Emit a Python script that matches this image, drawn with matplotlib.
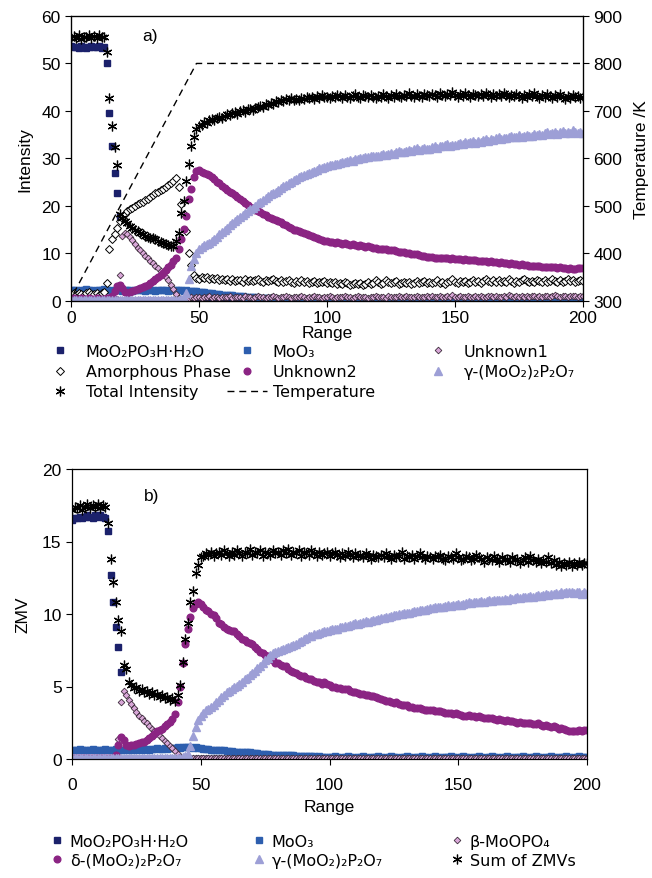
"""Two-panel phase evolution chart: intensity (a) and ZMV (b) against range."""

import matplotlib

matplotlib.use("Agg")
import matplotlib.pyplot as plt

plt.rcParams["font.family"] = ["Liberation Sans", "DejaVu Sans"]

frames = list(range(201))

# ---- panel a) intensities -------------------------------------------------
int_mop = [
    53.6, 53.4, 53.5, 53.3, 53.6, 53.5, 53.2, 53.4, 53.6, 53.5, 53.4, 53.6, 53.3, 53.5, 50.0, 39.5, 32.7, 27.0, 22.8, 17.8,
    0, 0, 0, 0, 0, 0, 0, 0, 0, 0, 0, 0, 0, 0, 0, 0, 0, 0, 0, 0,
    0, 0, 0, 0, 0, 0, 0, 0, 0, 0, 0, 0, 0, 0, 0, 0, 0, 0, 0, 0,
    0, 0, 0, 0, 0, 0, 0, 0, 0, 0, 0, 0, 0, 0, 0, 0, 0, 0, 0, 0,
    0, 0, 0, 0, 0, 0, 0, 0, 0, 0, 0, 0, 0, 0, 0, 0, 0, 0, 0, 0,
    0, 0, 0, 0, 0, 0, 0, 0, 0, 0, 0, 0, 0, 0, 0, 0, 0, 0, 0, 0,
    0, 0, 0, 0, 0, 0, 0, 0, 0, 0, 0, 0, 0, 0, 0, 0, 0, 0, 0, 0,
    0, 0, 0, 0, 0, 0, 0, 0, 0, 0, 0, 0, 0, 0, 0, 0, 0, 0, 0, 0,
    0, 0, 0, 0, 0, 0, 0, 0, 0, 0, 0, 0, 0, 0, 0, 0, 0, 0, 0, 0,
    0, 0, 0, 0, 0, 0, 0, 0, 0, 0, 0, 0, 0, 0, 0, 0, 0, 0, 0, 0,
    0,
]
int_moo3 = [
    2.2, 2.3, 2.2, 2.1, 2.3, 2.2, 2.4, 2.2, 2.3, 2.1, 2.2, 2.3, 2.2, 2.4, 2.3, 2.2, 2.1, 2.2, 2.3, 2.2,
    2.1, 2.2, 2.3, 2.2, 2.1, 2.2, 2.3, 2.2, 2.2, 2.1, 2.3, 2.2, 2.2, 2.1, 2.3, 2.2, 2.2, 2.3, 2.1, 2.2,
    2.2, 2.3, 2.2, 2.2, 2.1, 2.2, 2.1, 2.1, 2.0, 2.0, 1.9, 1.9, 1.8, 1.7, 1.7, 1.6, 1.5, 1.5, 1.4, 1.3,
    1.3, 1.2, 1.2, 1.1, 1.0, 1.0, 0.9, 0.9, 0.8, 0.8, 0.7, 0.7, 0.7, 0.6, 0.6, 0.6, 0.5, 0.5, 0.5, 0.5,
    0.4, 0.4, 0.4, 0.4, 0.4, 0.3, 0.4, 0.3, 0.3, 0.3, 0.3, 0.3, 0.3, 0.3, 0.2, 0.3, 0.3, 0.2, 0.3, 0.2,
    0.2, 0.3, 0.2, 0.2, 0.3, 0.2, 0.2, 0.2, 0.3, 0.2, 0.2, 0.2, 0.3, 0.2, 0.2, 0.2, 0.2, 0.3, 0.2, 0.2,
    0.2, 0.2, 0.3, 0.2, 0.2, 0.2, 0.2, 0.2, 0.3, 0.2, 0.2, 0.2, 0.2, 0.2, 0.3, 0.2, 0.2, 0.2, 0.2, 0.2,
    0.2, 0.3, 0.2, 0.2, 0.2, 0.2, 0.2, 0.2, 0.3, 0.2, 0.2, 0.2, 0.2, 0.2, 0.2, 0.3, 0.2, 0.2, 0.2, 0.2,
    0.2, 0.2, 0.2, 0.3, 0.2, 0.2, 0.2, 0.2, 0.2, 0.2, 0.3, 0.2, 0.2, 0.2, 0.2, 0.2, 0.2, 0.2, 0.3, 0.2,
    0.2, 0.2, 0.2, 0.2, 0.3, 0.2, 0.2, 0.2, 0.2, 0.2, 0.2, 0.3, 0.2, 0.2, 0.2, 0.2, 0.2, 0.2, 0.2, 0.3,
    0.2,
]
int_unknown1 = [
    0.1, 0.1, 0.0, 0.1, 0.1, 0.0, 0.1, 0.1, 0.1, 0.0, 0.1, 0.1, 0.0, 0.1, 0.1, 0.1, 0.2, 0.3, 0.4, 5.5,
    13.6, 14.3, 14.0, 13.5, 12.8, 12.0, 11.2, 10.6, 10.0, 9.5, 9.0, 8.4, 7.9, 7.3, 6.8, 6.3, 5.7, 5.1, 4.3, 3.4,
    2.5, 1.5, 0.5, 0.2, 0.3, 0.5, 0.6, 0.7, 0.6, 0.8, 0.7, 0.6, 0.8, 0.7, 0.9, 0.6, 0.7, 0.8, 0.6, 0.7,
    0.8, 0.7, 0.9, 0.6, 0.7, 0.8, 0.7, 0.6, 0.9, 0.7, 0.8, 0.6, 0.7, 0.9, 0.7, 0.8, 0.6, 0.7, 0.8, 0.9,
    0.7, 0.6, 0.8, 0.7, 0.9, 0.8, 0.6, 0.7, 0.8, 0.7, 0.9, 0.7, 0.6, 0.8, 0.7, 1.0, 0.8, 0.7, 0.6, 0.8,
    0.7, 0.9, 0.8, 0.6, 0.7, 0.8, 0.7, 0.9, 0.8, 0.7, 0.6, 0.8, 0.9, 0.7, 0.8, 0.7, 0.6, 0.8, 0.7, 0.9,
    0.8, 0.7, 0.8, 0.6, 0.9, 0.8, 0.7, 0.8, 1.0, 0.8, 0.7, 0.9, 0.8, 0.7, 0.8, 0.9, 0.7, 0.8, 0.7, 0.9,
    0.8, 1.0, 0.8, 0.7, 0.9, 0.8, 0.7, 0.9, 0.8, 1.1, 0.8, 0.7, 0.9, 0.8, 0.8, 0.9, 0.7, 0.8, 1.0, 0.8,
    0.9, 0.8, 0.7, 0.9, 1.0, 0.8, 0.9, 0.8, 0.7, 0.9, 0.8, 1.2, 0.9, 0.8, 0.9, 0.8, 1.0, 0.8, 0.9, 0.8,
    0.9, 1.0, 0.8, 0.9, 0.8, 1.0, 0.9, 0.8, 0.9, 1.1, 0.9, 0.8, 1.0, 0.9, 0.8, 0.9, 1.0, 0.9, 0.8, 1.0,
    0.9,
]
int_amorphous = [
    1.4, 1.6, 1.3, 1.7, 1.5, 1.2, 1.6, 1.8, 1.4, 1.5, 1.7, 1.3, 1.6, 1.8, 3.7, 10.8, 12.9, 14.0, 15.4, 16.8,
    17.5, 18.3, 18.9, 19.3, 19.6, 19.9, 20.3, 20.5, 20.9, 21.2, 21.5, 21.9, 22.2, 22.6, 22.9, 23.3, 23.6, 24.0, 24.3, 24.8,
    25.2, 25.9, 24.0, 20.3, 18.2, 14.6, 10.1, 7.6, 5.5, 4.8, 4.6, 4.9, 4.7, 5.0, 4.6, 4.8, 4.5, 4.7, 4.4, 4.6,
    4.3, 4.5, 4.2, 4.6, 4.1, 4.4, 4.3, 4.0, 4.5, 4.2, 4.4, 4.1, 4.3, 4.6, 4.2, 4.0, 4.4, 4.1, 4.3, 4.5,
    4.2, 4.0, 4.3, 3.9, 4.1, 4.4, 4.0, 3.8, 4.2, 4.0, 4.3, 3.9, 4.1, 3.8, 4.0, 4.2, 3.7, 4.0, 3.9, 4.1,
    3.8, 4.0, 3.7, 3.9, 3.6, 3.8, 3.5, 3.9, 3.7, 3.4, 3.6, 3.8, 3.5, 3.7, 3.4, 3.6, 3.9, 3.5, 3.7, 4.3,
    3.9, 3.6, 3.8, 4.4, 4.0, 3.7, 3.9, 4.1, 3.6, 3.8, 4.0, 3.7, 3.9, 3.6, 3.8, 4.1, 3.7, 3.9, 4.2, 3.8,
    4.0, 3.7, 3.9, 4.3, 3.8, 4.0, 3.6, 3.9, 4.1, 4.5, 4.0, 3.8, 4.2, 3.9, 4.1, 3.7, 4.0, 4.3, 3.9, 4.1,
    3.8, 4.2, 4.6, 4.1, 3.9, 4.3, 4.0, 4.4, 3.9, 4.2, 4.0, 4.5, 4.1, 3.8, 4.2, 4.0, 4.3, 4.6, 4.1, 3.9,
    4.2, 4.0, 4.4, 4.1, 3.9, 4.3, 4.0, 4.2, 4.6, 4.1, 3.9, 4.3, 4.0, 4.2, 4.5, 4.1, 4.3, 3.9, 4.2, 4.4,
    4.1,
]
int_unknown2 = [
    0.4, 0.5, 0.4, 0.3, 0.5, 0.4, 0.4, 0.5, 0.3, 0.4, 0.5, 0.4, 0.4, 0.3, 0.5, 0.6, 0.9, 2.0, 3.2, 3.4,
    2.6, 1.8, 1.6, 1.8, 2.0, 2.2, 2.4, 2.6, 2.9, 3.1, 3.4, 3.8, 4.2, 4.6, 5.0, 5.4, 5.9, 6.4, 7.0, 7.6,
    8.3, 8.9, 10.8, 13.0, 15.2, 17.8, 21.4, 23.5, 26.0, 27.3, 27.5, 27.2, 27.0, 26.8, 26.5, 26.0, 25.6, 25.1, 24.7, 24.2,
    23.8, 23.4, 23.0, 22.6, 22.2, 21.8, 21.4, 21.0, 20.6, 20.2, 19.8, 19.5, 19.2, 18.9, 18.6, 18.3, 18.0, 17.7, 17.5, 17.3,
    17.1, 16.8, 16.5, 16.2, 15.9, 15.6, 15.3, 15.0, 14.8, 14.6, 14.4, 14.2, 14.0, 13.8, 13.6, 13.4, 13.2, 13.0, 12.8, 12.6,
    12.5, 12.4, 12.3, 12.2, 12.3, 12.1, 12.0, 12.1, 11.9, 11.8, 11.9, 11.7, 11.6, 11.7, 11.5, 11.4, 11.5, 11.3, 11.2, 11.1,
    11.0, 10.9, 11.0, 10.8, 10.7, 10.6, 10.6, 10.4, 10.3, 10.3, 10.2, 10.1, 10.0, 9.9, 9.8, 9.8, 9.6, 9.5, 9.5, 9.3,
    9.3, 9.2, 9.1, 9.1, 9.0, 8.9, 9.0, 8.9, 8.8, 8.9, 8.8, 8.7, 8.8, 8.6, 8.7, 8.6, 8.5, 8.6, 8.5, 8.4,
    8.4, 8.3, 8.4, 8.2, 8.3, 8.1, 8.2, 8.0, 8.1, 8.0, 7.9, 7.8, 7.9, 7.7, 7.8, 7.6, 7.7, 7.5, 7.6, 7.4,
    7.4, 7.3, 7.4, 7.3, 7.2, 7.1, 7.2, 7.0, 7.1, 7.0, 6.9, 7.0, 6.8, 6.9, 6.7, 6.8, 6.6, 6.7, 6.9, 6.8,
    6.9,
]
int_gamma = [
    0.2, 0.1, 0.2, 0.2, 0.1, 0.2, 0.2, 0.1, 0.2, 0.2, 0.1, 0.2, 0.2, 0.1, 0.2, 0.2, 0.1, 0.2, 0.2, 0.1,
    0.2, 0.2, 0.1, 0.2, 0.2, 0.1, 0.2, 0.2, 0.1, 0.2, 0.2, 0.1, 0.2, 0.2, 0.1, 0.2, 0.2, 0.1, 0.2, 0.2,
    0.1, 0.2, 0.2, 0.3, 0.6, 1.6, 4.5, 7.3, 8.8, 10.0, 10.8, 11.4, 11.8, 12.0, 12.2, 12.6, 13.0, 13.5, 14.0, 14.5,
    15.0, 15.4, 15.9, 16.3, 16.8, 17.3, 17.6, 18.0, 18.4, 18.8, 19.3, 19.6, 20.0, 20.5, 20.9, 21.2, 21.6, 22.0, 22.4, 22.7,
    23.0, 23.4, 23.7, 24.1, 24.4, 24.8, 25.0, 25.4, 25.6, 26.0, 26.3, 26.4, 26.7, 26.9, 27.2, 27.4, 27.6, 27.9, 28.0, 28.2,
    28.3, 28.5, 28.6, 28.8, 28.9, 29.1, 29.2, 29.3, 29.5, 29.6, 29.5, 29.8, 29.9, 30.1, 30.0, 30.2, 30.3, 30.5, 30.4, 30.6,
    30.4, 30.7, 30.9, 30.8, 31.0, 31.2, 31.0, 31.3, 31.5, 31.3, 31.3, 31.6, 31.8, 31.5, 31.9, 32.1, 31.8, 32.0, 32.2, 31.9,
    32.0, 32.3, 32.5, 32.2, 32.7, 32.5, 32.8, 33.0, 32.6, 32.9, 32.8, 33.1, 33.3, 33.0, 33.4, 33.2, 33.5, 33.7, 33.3, 33.6,
    33.5, 33.8, 34.0, 33.7, 34.1, 33.9, 34.2, 34.4, 34.0, 34.3, 34.2, 34.5, 34.7, 34.4, 34.6, 34.9, 34.5, 34.8, 35.0, 34.7,
    34.8, 35.1, 34.9, 35.2, 35.0, 35.3, 35.5, 35.1, 35.4, 35.6, 35.2, 35.5, 35.8, 35.3, 35.6, 35.4, 35.9, 35.5, 35.3, 35.6,
    35.4,
]
int_total = [
    55.3, 55.8, 55.4, 55.9, 55.2, 55.6, 55.5, 56.0, 55.3, 55.7, 55.4, 55.9, 55.6, 55.5, 52.4, 42.8, 36.8, 32.3, 28.6, 18.2,
    17.5, 16.8, 16.3, 15.8, 15.3, 14.9, 14.6, 14.3, 14.0, 13.7, 13.5, 13.3, 13.2, 13.0, 12.6, 12.4, 12.1, 11.9, 11.7, 11.6,
    11.5, 12.5, 14.3, 18.5, 21.0, 25.2, 28.8, 32.6, 34.5, 36.2, 36.9, 37.1, 37.6, 37.4, 38.0, 38.2, 38.1, 38.5, 38.8, 38.6,
    39.0, 39.3, 39.1, 39.5, 39.7, 39.4, 39.9, 40.1, 39.8, 40.3, 40.5, 40.2, 40.7, 40.9, 41.1, 40.8, 41.4, 41.2, 41.7, 41.5,
    42.0, 41.8, 42.3, 42.1, 42.5, 42.2, 42.7, 42.4, 42.6, 42.3, 42.8, 42.5, 43.0, 42.7, 42.9, 42.6, 43.1, 42.8, 43.3, 42.9,
    43.0, 42.7, 43.2, 42.9, 43.4, 43.1, 42.8, 43.3, 43.0, 42.7, 43.2, 43.5, 43.0, 42.8, 43.3, 43.1, 42.9, 43.4, 43.0, 42.7,
    43.2, 43.0, 43.5, 43.1, 42.8, 43.3, 43.0, 43.6, 43.2, 42.9, 43.4, 43.1, 43.7, 43.2, 43.0, 43.5, 43.2, 42.9, 43.6, 43.3,
    43.1, 43.6, 43.3, 43.0, 43.8, 43.4, 43.1, 43.6, 43.3, 43.9, 43.4, 43.0, 43.5, 43.2, 43.7, 43.3, 43.0, 43.6, 43.4, 43.1,
    43.5, 43.2, 43.8, 43.3, 43.0, 43.6, 43.2, 43.5, 43.1, 43.7, 43.3, 42.9, 43.4, 43.1, 43.6, 43.2, 42.8, 43.4, 43.0, 43.5,
    43.1, 43.7, 43.2, 42.8, 43.4, 43.0, 43.6, 43.1, 42.7, 43.3, 43.0, 43.5, 42.9, 42.6, 43.2, 42.8, 43.4, 42.9, 43.1, 42.7,
    43.0,
]
temp_range = [1, 49, 200]
temp_kelvin = [315, 800, 800]

# ---- panel b) ZMVs ----------------------------------------------------------
zmv_mop = [
    16.5, 16.6, 16.6, 16.7, 16.6, 16.7, 16.8, 16.7, 16.6, 16.8, 16.7, 16.8, 16.7, 16.6, 15.7, 12.7, 10.8, 9.1, 7.7, 6.0,
    0, 0, 0, 0, 0, 0, 0, 0, 0, 0, 0, 0, 0, 0, 0, 0, 0, 0, 0, 0,
    0, 0, 0, 0, 0, 0, 0, 0, 0, 0, 0, 0, 0, 0, 0, 0, 0, 0, 0, 0,
    0, 0, 0, 0, 0, 0, 0, 0, 0, 0, 0, 0, 0, 0, 0, 0, 0, 0, 0, 0,
    0, 0, 0, 0, 0, 0, 0, 0, 0, 0, 0, 0, 0, 0, 0, 0, 0, 0, 0, 0,
    0, 0, 0, 0, 0, 0, 0, 0, 0, 0, 0, 0, 0, 0, 0, 0, 0, 0, 0, 0,
    0, 0, 0, 0, 0, 0, 0, 0, 0, 0, 0, 0, 0, 0, 0, 0, 0, 0, 0, 0,
    0, 0, 0, 0, 0, 0, 0, 0, 0, 0, 0, 0, 0, 0, 0, 0, 0, 0, 0, 0,
    0, 0, 0, 0, 0, 0, 0, 0, 0, 0, 0, 0, 0, 0, 0, 0, 0, 0, 0, 0,
    0, 0, 0, 0, 0, 0, 0, 0, 0, 0, 0, 0, 0, 0, 0, 0, 0, 0, 0, 0,
    0,
]
zmv_moo3 = [
    0.65, 0.6, 0.65, 0.7, 0.6, 0.65, 0.6, 0.65, 0.7, 0.65, 0.6, 0.65, 0.65, 0.7, 0.65, 0.6, 0.65, 0.7, 0.65, 0.6,
    0.65, 0.7, 0.65, 0.6, 0.7, 0.65, 0.7, 0.65, 0.7, 0.7, 0.65, 0.7, 0.7, 0.75, 0.7, 0.7, 0.75, 0.7, 0.75, 0.75,
    0.75, 0.8, 0.75, 0.8, 0.8, 0.8, 0.8, 0.75, 0.8, 0.75, 0.75, 0.7, 0.7, 0.7, 0.65, 0.65, 0.65, 0.6, 0.6, 0.6,
    0.55, 0.55, 0.55, 0.5, 0.5, 0.5, 0.45, 0.45, 0.45, 0.45, 0.4, 0.4, 0.4, 0.35, 0.35, 0.35, 0.35, 0.3, 0.3, 0.3,
    0.3, 0.3, 0.25, 0.25, 0.25, 0.25, 0.25, 0.2, 0.2, 0.2, 0.2, 0.2, 0.2, 0.2, 0.2, 0.15, 0.2, 0.15, 0.15, 0.15,
    0.15, 0.15, 0.2, 0.15, 0.1, 0.15, 0.15, 0.2, 0.15, 0.15, 0.1, 0.15, 0.15, 0.2, 0.15, 0.1, 0.15, 0.15, 0.15, 0.2,
    0.15, 0.1, 0.15, 0.15, 0.2, 0.15, 0.15, 0.1, 0.15, 0.15, 0.2, 0.15, 0.1, 0.15, 0.15, 0.15, 0.2, 0.15, 0.1, 0.15,
    0.15, 0.2, 0.15, 0.1, 0.15, 0.15, 0.15, 0.2, 0.15, 0.1, 0.15, 0.15, 0.2, 0.15, 0.15, 0.1, 0.15, 0.15, 0.2, 0.15,
    0.1, 0.15, 0.15, 0.2, 0.15, 0.15, 0.1, 0.15, 0.15, 0.2, 0.15, 0.1, 0.15, 0.15, 0.15, 0.2, 0.15, 0.1, 0.15, 0.15,
    0.2, 0.15, 0.15, 0.1, 0.15, 0.15, 0.2, 0.15, 0.1, 0.15, 0.15, 0.15, 0.2, 0.15, 0.1, 0.15, 0.15, 0.2, 0.15, 0.15,
    0.15,
]
zmv_beta = [
    0, 0, 0, 0, 0, 0, 0, 0, 0, 0, 0, 0, 0, 0, 0.05, 0.05, 0.1, 0.3, 1.4, 3.9,
    4.7, 4.4, 4.1, 3.8, 3.5, 3.25, 3.0, 2.8, 2.6, 2.45, 2.3, 2.1, 1.95, 1.8, 1.6, 1.45, 1.25, 1.1, 0.9, 0.75,
    0.55, 0.35, 0.15, 0.1, 0.05, 0.05, 0.1, 0.05, 0.1, 0.05, 0.1, 0.05, 0.05, 0.1, 0.05, 0.1, 0.05, 0.1, 0.05, 0.05,
    0.1, 0.05, 0.1, 0.05, 0.05, 0.1, 0.05, 0.1, 0.05, 0.1, 0.05, 0.05, 0.1, 0.05, 0.1, 0.05, 0.1, 0.05, 0.05, 0.1,
    0.05, 0.1, 0.05, 0.1, 0.05, 0.05, 0.1, 0.05, 0.1, 0.05, 0.1, 0.05, 0.05, 0.1, 0.05, 0.1, 0.05, 0.1, 0.05, 0.05,
    0.1, 0.05, 0.1, 0.05, 0.05, 0.1, 0.05, 0.1, 0.05, 0.1, 0.05, 0.05, 0.1, 0.05, 0.1, 0.05, 0.1, 0.05, 0.05, 0.1,
    0.05, 0.1, 0.05, 0.1, 0.05, 0.05, 0.1, 0.05, 0.1, 0.05, 0.1, 0.05, 0.05, 0.1, 0.05, 0.1, 0.05, 0.1, 0.05, 0.05,
    0.1, 0.05, 0.1, 0.05, 0.05, 0.1, 0.05, 0.1, 0.05, 0.1, 0.05, 0.05, 0.1, 0.05, 0.1, 0.05, 0.1, 0.05, 0.05, 0.1,
    0.05, 0.1, 0.05, 0.1, 0.05, 0.05, 0.1, 0.05, 0.1, 0.05, 0.1, 0.05, 0.05, 0.1, 0.05, 0.1, 0.05, 0.1, 0.05, 0.05,
    0.1, 0.05, 0.1, 0.05, 0.05, 0.1, 0.05, 0.1, 0.05, 0.1, 0.05, 0.05, 0.1, 0.05, 0.1, 0.05, 0.1, 0.05, 0.05, 0.1,
    0.05,
]
zmv_delta = [
    0.05, 0.05, 0.05, 0.05, 0.05, 0.05, 0.05, 0.05, 0.05, 0.05, 0.05, 0.05, 0.05, 0.05, 0.05, 0.05, 0.05, 0.3, 1.0, 1.55,
    1.3, 0.95, 0.9, 0.95, 1.0, 1.05, 1.1, 1.15, 1.2, 1.3, 1.45, 1.6, 1.75, 1.9, 2.0, 2.1, 2.25, 2.4, 2.55, 2.75,
    3.1, 3.9, 5.0, 6.6, 7.9, 9.0, 9.8, 10.4, 10.7, 10.8, 10.7, 10.5, 10.3, 10.2, 10.0, 9.9, 9.7, 9.4, 9.3, 9.1,
    9.0, 8.9, 8.8, 8.8, 8.6, 8.5, 8.3, 8.2, 8.1, 8.0, 7.9, 7.7, 7.6, 7.4, 7.3, 7.2, 7.1, 6.9, 6.8, 6.6,
    6.6, 6.5, 6.4, 6.4, 6.2, 6.1, 6.0, 5.9, 5.8, 5.7, 5.7, 5.6, 5.5, 5.5, 5.4, 5.3, 5.3, 5.2, 5.3, 5.2,
    5.1, 5.0, 5.0, 4.9, 4.9, 4.85, 4.8, 4.8, 4.7, 4.6, 4.6, 4.55, 4.5, 4.5, 4.4, 4.4, 4.35, 4.35, 4.3, 4.2,
    4.15, 4.1, 4.0, 4.0, 3.9, 3.85, 3.9, 3.8, 3.7, 3.75, 3.7, 3.6, 3.6, 3.55, 3.5, 3.5, 3.45, 3.4, 3.4, 3.35,
    3.35, 3.3, 3.3, 3.3, 3.25, 3.2, 3.2, 3.15, 3.1, 3.15, 3.1, 3.05, 3.0, 3.0, 3.05, 3.0, 2.95, 2.9, 2.95, 2.9,
    2.85, 2.8, 2.85, 2.8, 2.75, 2.7, 2.75, 2.7, 2.65, 2.7, 2.6, 2.6, 2.55, 2.5, 2.55, 2.5, 2.45, 2.5, 2.45, 2.4,
    2.4, 2.45, 2.35, 2.3, 2.35, 2.3, 2.2, 2.25, 2.2, 2.1, 2.15, 2.05, 2.0, 1.95, 1.9, 1.95, 1.9, 2.0, 1.95, 2.0,
    2.0,
]
zmv_gamma = [
    0.1, 0.1, 0.1, 0.1, 0.1, 0.1, 0.1, 0.1, 0.1, 0.1, 0.1, 0.1, 0.1, 0.1, 0.1, 0.1, 0.1, 0.1, 0.1, 0.1,
    0.1, 0.1, 0.1, 0.1, 0.1, 0.1, 0.1, 0.1, 0.1, 0.1, 0.1, 0.1, 0.1, 0.1, 0.1, 0.1, 0.1, 0.1, 0.1, 0.1,
    0.1, 0.1, 0.1, 0.15, 0.2, 0.35, 0.9, 1.6, 2.2, 2.7, 3.0, 3.2, 3.35, 3.45, 3.6, 3.75, 3.9, 4.1, 4.25, 4.4,
    4.6, 4.7, 4.8, 4.95, 5.05, 5.2, 5.3, 5.5, 5.6, 5.8, 5.95, 6.1, 6.25, 6.4, 6.6, 6.85, 7.0, 7.15, 7.3, 7.4,
    7.45, 7.5, 7.6, 7.65, 7.7, 7.8, 7.85, 7.95, 8.05, 8.15, 8.25, 8.35, 8.45, 8.5, 8.6, 8.65, 8.7, 8.75, 8.8, 8.85,
    8.9, 8.95, 9.0, 9.0, 9.1, 9.1, 9.15, 9.2, 9.25, 9.3, 9.35, 9.3, 9.4, 9.45, 9.5, 9.45, 9.55, 9.6, 9.6, 9.65,
    9.7, 9.75, 9.8, 9.8, 9.85, 9.9, 9.95, 10.0, 10.0, 10.05, 10.1, 10.1, 10.15, 10.2, 10.2, 10.25, 10.3, 10.3, 10.35, 10.4,
    10.4, 10.45, 10.5, 10.45, 10.5, 10.55, 10.6, 10.55, 10.6, 10.65, 10.7, 10.65, 10.7, 10.75, 10.8, 10.75, 10.8, 10.85, 10.8, 10.9,
    10.85, 10.9, 10.95, 10.9, 10.95, 11.0, 10.95, 11.0, 11.05, 11.0, 11.1, 11.05, 11.1, 11.15, 11.1, 11.2, 11.15, 11.2, 11.25, 11.2,
    11.25, 11.3, 11.25, 11.3, 11.35, 11.3, 11.4, 11.35, 11.45, 11.4, 11.5, 11.45, 11.5, 11.55, 11.5, 11.45, 11.55, 11.5, 11.4, 11.5,
    11.45,
]
zmv_sum = [
    17.2, 17.4, 17.3, 17.5, 17.2, 17.4, 17.6, 17.3, 17.5, 17.4, 17.6, 17.3, 17.5, 17.4, 16.3, 13.8, 12.2, 10.8, 9.6, 8.8,
    6.5, 6.2, 5.3, 5.1, 4.9, 5.0, 4.7, 4.8, 4.6, 4.7, 4.5, 4.6, 4.4, 4.5, 4.3, 4.4, 4.2, 4.3, 4.1, 4.2,
    4.0, 4.4, 5.1, 6.7, 8.3, 9.4, 10.8, 11.6, 12.8, 13.4, 13.9, 14.0, 14.2, 14.1, 14.3, 14.0, 14.2, 14.3, 14.1, 14.4,
    14.2, 14.0, 14.3, 14.1, 14.4, 14.2, 14.0, 14.3, 14.2, 14.5, 14.1, 14.3, 14.2, 14.4, 14.0, 14.3, 14.2, 14.1, 14.4, 14.2,
    14.3, 14.1, 14.4, 14.2, 14.5, 14.1, 14.3, 14.2, 14.4, 14.0, 14.3, 14.2, 14.1, 14.4, 14.2, 14.0, 14.3, 14.1, 14.2, 14.3,
    14.0, 14.2, 14.3, 14.1, 13.9, 14.2, 14.0, 14.3, 14.1, 13.9, 14.2, 14.0, 14.1, 13.9, 14.2, 14.0, 13.8, 14.1, 14.0, 13.9,
    14.1, 13.9, 14.2, 14.0, 13.8, 14.1, 13.9, 14.0, 14.3, 13.8, 14.0, 13.9, 14.1, 13.8, 14.0, 14.2, 13.9, 13.8, 14.0, 13.9,
    13.8, 14.0, 13.9, 14.1, 13.8, 13.7, 14.0, 13.9, 13.8, 14.2, 13.9, 13.7, 13.8, 14.0, 13.9, 13.7, 13.8, 14.1, 13.9, 13.8,
    13.6, 13.9, 13.8, 13.7, 14.0, 13.8, 13.6, 13.9, 13.7, 13.8, 13.6, 13.9, 13.7, 13.8, 13.5, 13.7, 13.9, 13.6, 14.0, 13.7,
    13.6, 13.8, 13.5, 13.7, 13.6, 13.9, 13.5, 13.7, 13.4, 13.6, 13.3, 13.5, 13.4, 13.6, 13.3, 13.5, 13.4, 13.6, 13.4, 13.5,
    13.5,
]

# ---- marker styles ----------------------------------------------------------
NAVY = "#1b216b"
BLUE = "#2d5eae"
PINK = "#d9a7d8"
PURPLE = "#8b2483"
LAVENDER = "#9d9fd6"

style_mop = dict(marker="s", ms=4, color=NAVY, mec=NAVY, ls="none")
style_moo3 = dict(marker="s", ms=4, color=BLUE, mec=BLUE, ls="none")
style_pink = dict(marker="D", ms=3.4, mfc=PINK, mec="#3c2c3b", mew=0.6, ls="none")
style_amorph = dict(marker="D", ms=4.4, mfc="white", mec="black", mew=0.7, ls="none")
style_purple = dict(marker="o", ms=4.8, color=PURPLE, mec=PURPLE, ls="none")
style_gamma = dict(marker="^", ms=5.2, color=LAVENDER, mec=LAVENDER, ls="none")
style_total = dict(marker=(6, 2, 0), ms=7, color="black", mew=0.9, ls="none")

W, H = 652, 879
TICK_FONT = 12.5
LEG_PROP = {"family": "DejaVu Sans", "size": 11.5}


def style_axis(ax, tick_pad, label_pad):
    ax.set_xlim(0, 200)
    ax.set_xticks([0, 50, 100, 150, 200])
    ax.tick_params(axis="both", direction="out", length=4, width=0.8, labelsize=TICK_FONT)
    ax.tick_params(axis="x", pad=tick_pad)
    for spine in ax.spines.values():
        spine.set_linewidth(0.9)
    ax.set_xlabel("Range", fontsize=TICK_FONT, labelpad=label_pad)


def column_legends(fig, columns, top_px, handlelength, textpad, spacing):
    for x_px, entries in columns:
        handles = [h for h, _ in entries]
        labels = [lab for _, lab in entries]
        fig.legend(
            handles, labels, loc="upper left",
            bbox_to_anchor=(x_px / W, 1 - top_px / H),
            frameon=False, borderpad=0, borderaxespad=0, numpoints=1,
            handlelength=handlelength, handletextpad=textpad,
            labelspacing=spacing, prop=LEG_PROP,
        )


fig = plt.figure(figsize=(W / 100, H / 100), dpi=100, facecolor="white")

# ---- panel a --------------------------------------------------------------
ax1 = fig.add_axes([71 / W, 1 - 301.7 / H, 512 / W, 284.7 / H])
h_mop, = ax1.plot(frames, int_mop, **style_mop)
h_moo3, = ax1.plot(frames, int_moo3, **style_moo3)
h_unk1, = ax1.plot(frames, int_unknown1, **style_pink)
h_amor, = ax1.plot(frames, int_amorphous, **style_amorph)
h_unk2, = ax1.plot(frames, int_unknown2, **style_purple)
h_gam, = ax1.plot(frames, int_gamma, **style_gamma)
h_tot, = ax1.plot(frames, int_total, **style_total)
ax1.set_ylim(0, 60)
ax1.set_yticks(range(0, 61, 10))
ax1.set_ylabel("Intensity", fontsize=TICK_FONT, labelpad=6)
style_axis(ax1, tick_pad=3, label_pad=0)
ax1.text(28, 55.8, "a)", fontsize=TICK_FONT, va="center")

ax1t = ax1.twinx()
h_temp, = ax1t.plot(temp_range, temp_kelvin, color="black", lw=1.0, ls=(0, (5, 3.5)))
ax1t.set_ylim(300, 900)
ax1t.set_yticks(range(300, 901, 100))
ax1t.tick_params(axis="y", direction="out", length=4, width=0.8, labelsize=TICK_FONT)
ax1t.set_ylabel("Temperature /K", fontsize=TICK_FONT, labelpad=8)

column_legends(
    fig,
    [
        (40, [(h_mop, "MoO₂PO₃H·H₂O"), (h_amor, "Amorphous Phase"), (h_tot, "Total Intensity")]),
        (227, [(h_moo3, "MoO₃"), (h_unk2, "Unknown2"), (h_temp, "Temperature")]),
        (418, [(h_unk1, "Unknown1"), (h_gam, "γ-(MoO₂)₂P₂O₇")]),
    ],
    top_px=345, handlelength=2.5, textpad=0.35, spacing=0.32,
)

# ---- panel b --------------------------------------------------------------
ax2 = fig.add_axes([72 / W, 1 - 760 / H, 515 / W, 290 / H])
g_mop, = ax2.plot(frames, zmv_mop, **style_mop)
g_moo3, = ax2.plot(frames, zmv_moo3, **style_moo3)
g_beta, = ax2.plot(frames, zmv_beta, **style_pink)
g_delta, = ax2.plot(frames, zmv_delta, **style_purple)
g_gam, = ax2.plot(frames, zmv_gamma, **style_gamma)
g_sum, = ax2.plot(frames, zmv_sum, **style_total)
ax2.set_ylim(0, 20)
ax2.set_yticks(range(0, 21, 5))
ax2.set_ylabel("ZMV", fontsize=TICK_FONT, labelpad=8)
style_axis(ax2, tick_pad=9, label_pad=5)
ax2.text(28, 18.2, "b)", fontsize=TICK_FONT, va="center")

column_legends(
    fig,
    [
        (49, [(g_mop, "MoO₂PO₃H·H₂O"), (g_delta, "δ-(MoO₂)₂P₂O₇")]),
        (251, [(g_moo3, "MoO₃"), (g_gam, "γ-(MoO₂)₂P₂O₇")]),
        (449, [(g_beta, "β-MoOPO₄"), (g_sum, "Sum of ZMVs")]),
    ],
    top_px=835, handlelength=1.0, textpad=0.3, spacing=0.25,
)

fig.savefig("out.png", dpi=100, facecolor="white")
plt.close(fig)
